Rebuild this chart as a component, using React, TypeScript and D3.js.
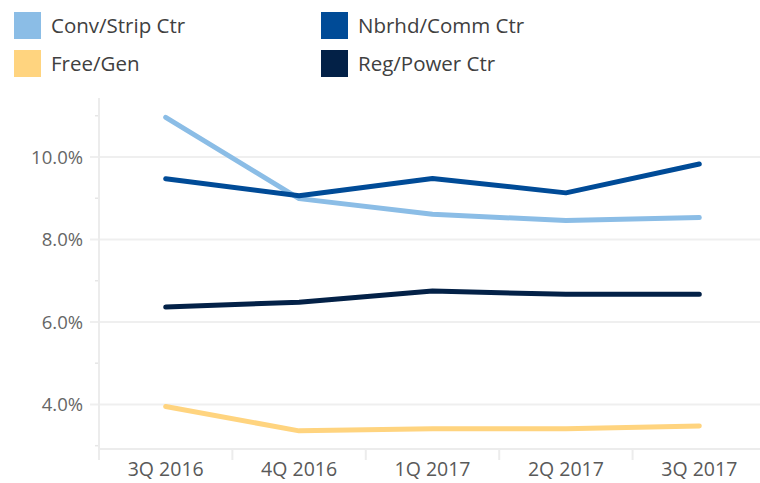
import React, { useEffect, useRef } from 'react';
import * as d3 from 'd3';

const quarters = ['3Q 2016', '4Q 2016', '1Q 2017', '2Q 2017', '3Q 2017'];
const convStrip = [10.96, 8.99, 8.61, 8.46, 8.53];
const nbrhdComm = [9.47, 9.06, 9.48, 9.13, 9.83];
const freeGen = [3.95, 3.36, 3.41, 3.41, 3.48];
const regPower = [6.36, 6.48, 6.75, 6.67, 6.67];
const yTicks = [4, 6, 8, 10];
const yMinorTicks = [3, 5, 7, 9, 11];

const series = [
  { name: 'Conv/Strip Ctr', values: convStrip, color: '#8bbde6' },
  { name: 'Nbrhd/Comm Ctr', values: nbrhdComm, color: '#004b97' },
  { name: 'Free/Gen', values: freeGen, color: '#ffd47f' },
  { name: 'Reg/Power Ctr', values: regPower, color: '#032147' },
];

export default function App() {
  const ref = useRef<SVGSVGElement>(null);

  useEffect(() => {
    const width = 760;
    const svg = d3.select(ref.current);
    svg.selectAll('*').remove();
    const font = '"Open Sans", sans-serif';

    const x = d3.scaleBand<string>().domain(quarters).range([99, 766]).padding(0);
    const y = d3.scaleLinear().domain([2.92, 11.43]).range([449, 98]);
    const cx = (q: string) => (x(q) as number) + x.bandwidth() / 2;

    // grid lines
    svg.append('g').selectAll('line').data(yTicks).enter().append('line')
      .attr('x1', 90).attr('x2', width)
      .attr('y1', d => y(d)).attr('y2', d => y(d))
      .attr('stroke', '#efefef').attr('stroke-width', 2);

    // minor ticks
    svg.append('g').selectAll('line').data(yMinorTicks).enter().append('line')
      .attr('x1', 95).attr('x2', 99)
      .attr('y1', d => y(d)).attr('y2', d => y(d))
      .attr('stroke', '#e6e6e6').attr('stroke-width', 1.5);

    // axes
    svg.append('line').attr('x1', 99).attr('x2', 99).attr('y1', 98).attr('y2', 460)
      .attr('stroke', '#ececec').attr('stroke-width', 2);
    svg.append('line').attr('x1', 99).attr('x2', width).attr('y1', 449).attr('y2', 449)
      .attr('stroke', '#ececec').attr('stroke-width', 2);
    svg.append('g').selectAll('line').data(quarters.slice(1)).enter().append('line')
      .attr('x1', d => x(d) as number).attr('x2', d => x(d) as number)
      .attr('y1', 449).attr('y2', 460)
      .attr('stroke', '#ececec').attr('stroke-width', 2);

    // y labels
    svg.append('g').selectAll('text').data(yTicks).enter().append('text')
      .attr('x', 83).attr('y', d => y(d)).attr('dy', '0.36em')
      .attr('text-anchor', 'end')
      .attr('font-family', font).attr('font-size', 18.5).attr('fill', '#666666')
      .text(d => d.toFixed(1) + '%');

    // x labels
    svg.append('g').selectAll('text').data(quarters).enter().append('text')
      .attr('x', d => cx(d)).attr('y', 476)
      .attr('text-anchor', 'middle')
      .attr('font-family', font).attr('font-size', 19.5).attr('fill', '#595959')
      .text(d => d);

    // lines
    const line = d3.line<number>()
      .x((_, i) => cx(quarters[i]))
      .y(d => y(d));
    svg.append('g').selectAll('path').data(series).enter().append('path')
      .attr('d', d => line(d.values))
      .attr('fill', 'none')
      .attr('stroke', d => d.color)
      .attr('stroke-width', 5)
      .attr('stroke-linecap', 'round')
      .attr('stroke-linejoin', 'round');

    // legend
    const legend = svg.append('g').selectAll('g').data(series).enter().append('g')
      .attr('transform', (_, i) => `translate(${i % 2 === 0 ? 14 : 321},${i < 2 ? 12 : 50})`);
    legend.append('rect').attr('width', 27).attr('height', 27).attr('fill', d => d.color);
    legend.append('text').attr('x', 37).attr('y', 14).attr('dy', '0.36em')
      .attr('font-family', font).attr('font-size', 20.5).attr('fill', '#404040')
      .text(d => d.name);
  }, []);

  return (
    <svg ref={ref} width={760} height={483}
      style={{ position: 'absolute', left: 0, top: 0, background: '#ffffff' }} />
  );
}
